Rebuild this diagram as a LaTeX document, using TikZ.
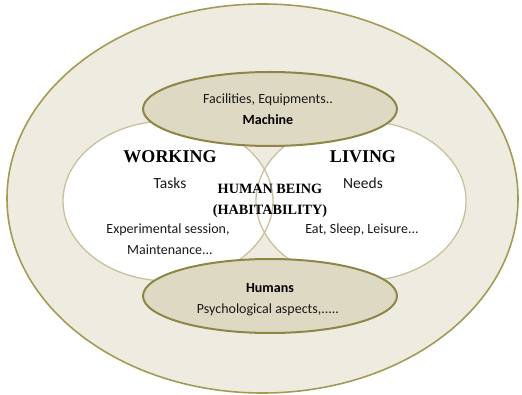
\documentclass[tikz,border=0pt]{standalone}
\usepackage{fontspec}
\setmainfont{Liberation Serif}
\newfontfamily\calfont{Carlito}
\usetikzlibrary{shapes.geometric}
\definecolor{bgtan}{HTML}{EEECE1}
\definecolor{outerline}{HTML}{A39B55}
\definecolor{smallfill}{HTML}{DDD9C3}
\definecolor{smallline}{HTML}{8E8646}
\definecolor{venline}{HTML}{C8C19B}
\tikzset{
  outerell/.style={ellipse, draw=outerline, line width=1.6pt, fill=bgtan, inner sep=0pt},
  venn/.style={ellipse, fill=white, inner sep=0pt, minimum width=210pt, minimum height=160pt},
  vennline/.style={draw=venline, line width=1.3pt},
  smallell/.style={ellipse, draw=smallline, line width=2pt, fill=smallfill, inner sep=0pt, minimum width=254pt, minimum height=74pt},
  big/.style={font=\fontsize{18}{18}\selectfont\bfseries, inner sep=0pt},
  mid/.style={font=\fontsize{14.2}{14}\selectfont\bfseries, inner sep=0pt},
  small/.style={font=\calfont\fontsize{14}{14}\selectfont, text=black!90, inner sep=0pt},
  smallb/.style={font=\calfont\fontsize{14}{14}\selectfont\bfseries, inner sep=0pt},
  tn/.style={font=\calfont\fontsize{15.5}{15}\selectfont, text=black!90, inner sep=0pt},
}
\begin{document}
\begin{tikzpicture}[x=1pt,y=-1pt]
\useasboundingbox (0,0) rectangle (522,395);
\fill[white] (0,0) rectangle (522,395);
\node[outerell, minimum width=511pt, minimum height=389pt] (outer) at (262.5,198.5) {};
\node[venn] (work) at (168,201) {};
\node[venn] (live) at (361,201) {};
\draw[vennline] (work.center) ellipse [x radius=105, y radius=80];
\draw[vennline] (live.center) ellipse [x radius=105, y radius=80];
\node[smallell] (machine) at (270,109) {};
\node[smallell] (humans) at (270,296) {};
\node[small] (fac) at (268,100) {Facilities, Equipments..};
\node[smallb] (mach) at (268,120) {Machine};
\node[big] (working) at (170,157) {WORKING};
\node[tn] (tasks) at (170,183) {Tasks};
\node[big] (living) at (363,157) {LIVING};
\node[tn] (needs) at (363,183) {Needs};
\node[mid] (hb) at (270,189) {HUMAN BEING};
\node[mid] (hab) at (270,211) {(HABITABILITY)};
\node[small] (exp) at (168,230) {Experimental session,};
\node[small] (maint) at (170,250) {Maintenance...};
\node[small] (eat) at (362,230) {Eat, Sleep, Leisure...};
\node[smallb] (hum) at (270,288) {Humans};
\node[small] (psy) at (268,310) {Psychological aspects,.....};
\end{tikzpicture}
\end{document}
